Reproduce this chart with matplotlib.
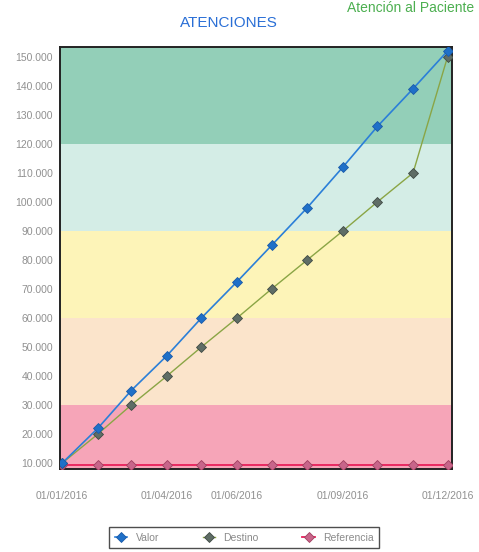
import matplotlib
matplotlib.use("Agg")
import matplotlib.pyplot as plt
import matplotlib.dates as mdates
from matplotlib.ticker import FuncFormatter, MultipleLocator
import datetime as dt

months = [dt.date(2016, m, 1) for m in range(1, 13)]
valor = [10000, 22000, 35000, 47000, 60000, 72500, 85000, 98000, 112000, 126000, 139000, 152000]
destino = [10000, 20000, 30000, 40000, 50000, 60000, 70000, 80000, 90000, 100000, 110000, 150000]
referencia = [9500] * 12

band_edges = [0, 30000, 60000, 90000, 120000, 160000]
band_colors = ['#f6a5b8', '#fbe4cb', '#fdf4b8', '#d4ede6', '#93cfb8']

xtick_dates = [dt.date(2016, 1, 1), dt.date(2016, 4, 1), dt.date(2016, 6, 1),
               dt.date(2016, 9, 1), dt.date(2016, 12, 1)]

plt.rcParams['font.family'] = ['Liberation Sans', 'DejaVu Sans']

fig = plt.figure(figsize=(4.79, 5.52), dpi=100)
ax = fig.add_axes([0.125, 0.150, 0.819, 0.765])

# background bands
for i in range(len(band_colors)):
    ax.axhspan(band_edges[i], band_edges[i + 1], color=band_colors[i], zorder=0, lw=0)

ax.plot(months, referencia, color='#e8205a', lw=1.3, marker='D', ms=5,
        mfc='#c8658a', mec='#a04060', mew=0.6, label='Referencia', zorder=3)
ax.plot(months, destino, color='#8aa545', lw=1.0, marker='D', ms=5,
        mfc='#5f6d66', mec='#3f4a44', mew=0.6, label='Destino', zorder=4)
ax.plot(months, valor, color='#2b7fd8', lw=1.2, marker='D', ms=5,
        mfc='#1f70c8', mec='#1a5aa8', mew=0.6, label='Valor', zorder=5)

ax.set_xlim(dt.date(2015, 12, 30), dt.date(2016, 12, 5))
ax.set_ylim(7900, 153400)
ax.yaxis.set_major_locator(MultipleLocator(10000))
ax.yaxis.set_major_formatter(FuncFormatter(lambda v, p: f"{int(v):,}".replace(',', '.')))
ax.set_xticks(xtick_dates)
ax.xaxis.set_major_formatter(mdates.DateFormatter('%d/%m/%Y'))
ax.tick_params(length=0, labelsize=7.5, labelcolor='#909090')
ax.tick_params(axis='x', pad=16)
ax.tick_params(axis='y', pad=5)
for s in ax.spines.values():
    s.set_color('#222222')
    s.set_linewidth(1.4)

fig.text(0.478, 0.958, 'ATENCIONES', color='#2a6fd6', fontsize=11,
         ha='center', va='center')
fig.text(0.99, 0.999, 'Atención al Paciente', color='#4caf50', fontsize=10,
         ha='right', va='top')

h, l = ax.get_legend_handles_labels()
order = [2, 1, 0]
leg = fig.legend([h[i] for i in order], [l[i] for i in order], loc='upper center',
                 bbox_to_anchor=(0.51, 0.054), ncol=3, fontsize=7.5, frameon=True,
                 fancybox=False, edgecolor='#222222', handlelength=1.2,
                 columnspacing=4.2, borderpad=0.5, handletextpad=0.8)
leg.get_frame().set_linewidth(1.0)
for t in leg.get_texts():
    t.set_color('#8a8a8a')

fig.savefig('out.png', dpi=100)
